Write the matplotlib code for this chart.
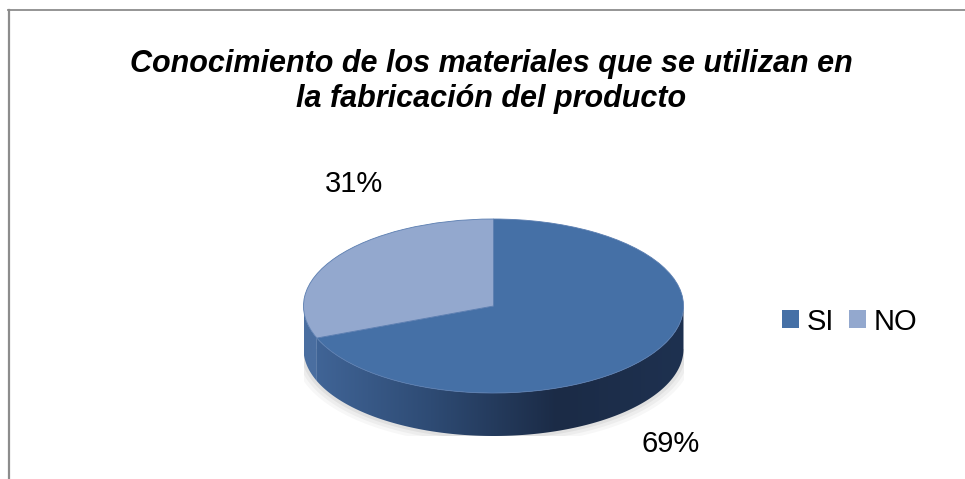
import numpy as np
import matplotlib
matplotlib.use("Agg")
import matplotlib.pyplot as plt
from matplotlib.patches import Polygon, Patch
from matplotlib.lines import Line2D
from matplotlib.colors import LinearSegmentedColormap

# ---- data ----
categories = ["SI", "NO"]
values = [69, 31]
title = "Conocimiento de los materiales que se utilizan en\nla fabricación del producto"

top_colors = ["#4570a6", "#93a8ce"]
side_cmaps = [
    LinearSegmentedColormap.from_list("si", ["#42679a", "#2e4b74", "#1b2b46", "#1e3150"]),
    LinearSegmentedColormap.from_list("no", ["#4a6ea0", "#4a6ea0"]),
]

W, H = 965, 479
fig = plt.figure(figsize=(W / 100, H / 100), dpi=100)
fig.patch.set_facecolor("white")
FONT = "Liberation Sans"

# frame (partially visible chart border)
fig.add_artist(Line2D([8 / W, 1.0], [1 - 10 / H, 1 - 10 / H], color="#8c8c8c", lw=1.3))
fig.add_artist(Line2D([8.5 / W, 8.5 / W], [1 - 10 / H, 0.0], color="#8c8c8c", lw=1.6))

# ---- pie axes (squashed to ellipse) ----
cx, a = 493.5, 190.0
cy, b = 306.0, 87.0
depth_px = 43.0
d = depth_px / b
top_px = cy - b
bot_px = cy + b + depth_px
ax = fig.add_axes([(cx - a) / W, 1 - bot_px / H, 2 * a / W, (bot_px - top_px) / H])

# angles of wedges (clockwise from 12 o'clock)
fr = np.array(values, dtype=float) / np.sum(values)
starts = 90 - 360 * np.concatenate([[0], np.cumsum(fr)[:-1]])
ends = starts - 360 * fr

# faint shadow
for k, al in enumerate([0.05, 0.04, 0.03]):
    t = np.linspace(np.pi, 2 * np.pi, 200)
    s = 1.0 + 0.015 * (k + 1)
    xs = np.concatenate([s * np.cos(t), s * np.cos(t[::-1])])
    ys = np.concatenate([np.sin(t) * s - d - 0.02 * (k + 1), np.zeros_like(t) - d])
    ax.add_patch(Polygon(np.column_stack([xs, ys]), closed=True, color="black",
                         alpha=al, lw=0, zorder=0))

# side walls (front half only)
for i in range(len(values)):
    lo, hi = ends[i], starts[i]
    segs = []
    for off in (-360, 0, 360):
        l, h = lo + off, hi + off
        l2, h2 = max(l, 180), min(h, 360)
        if h2 > l2:
            segs.append((l2, h2))
    for l2, h2 in segs:
        t = np.radians(np.linspace(l2, h2, 200))
        xs = np.concatenate([np.cos(t), np.cos(t[::-1])])
        ys = np.concatenate([np.sin(t), np.sin(t[::-1]) - d])
        poly = Polygon(np.column_stack([xs, ys]), closed=True, facecolor="none",
                       edgecolor="none", transform=ax.transData)
        ax.add_patch(poly)
        grad = np.linspace(0, 1, 256).reshape(1, -1)
        im = ax.imshow(grad, extent=(-1, 1, -1 - d, 0), aspect="auto",
                       cmap=side_cmaps[i], zorder=1, interpolation="bilinear")
        im.set_clip_path(poly)

# top surface
wedges, _ = ax.pie(values, colors=top_colors, startangle=90, counterclock=False,
                   radius=1.0, center=(0, 0), frame=True,
                   wedgeprops=dict(linewidth=0.6, edgecolor="#5a7db0"))
for w in wedges:
    w.set_zorder(2)
ax.set_xlim(-1, 1)
ax.set_ylim(-1 - d, 1)
ax.set_aspect("auto")
ax.axis("off")

# percentage labels
lab_pos = [(671 / W, 1 - 444 / H), (353.5 / W, 1 - 184 / H)]
for v, (px, py) in zip(values, lab_pos):
    fig.text(px, py, f"{v}%", ha="center", va="center", fontsize=21,
             family=FONT, color="black")

# title (va='baseline' anchors the last line's baseline)
fig.text(491 / W, 1 - 107 / H, title, ha="center", va="baseline", fontsize=22,
         family=FONT, weight="bold", style="italic",
         linespacing=1.2, color="black", multialignment="center")

# legend
handles = [Patch(facecolor=c, edgecolor="none") for c in top_colors]
leg = fig.legend(handles, categories, loc="center left",
                 bbox_to_anchor=(782 / W, 1 - 321.5 / H), ncol=2, frameon=False,
                 prop={"family": FONT, "size": 21},
                 handlelength=0.58, handleheight=0.58, handletextpad=0.27,
                 columnspacing=0.5, borderaxespad=0, borderpad=0)

fig.savefig("out.png", dpi=100, facecolor="white")
